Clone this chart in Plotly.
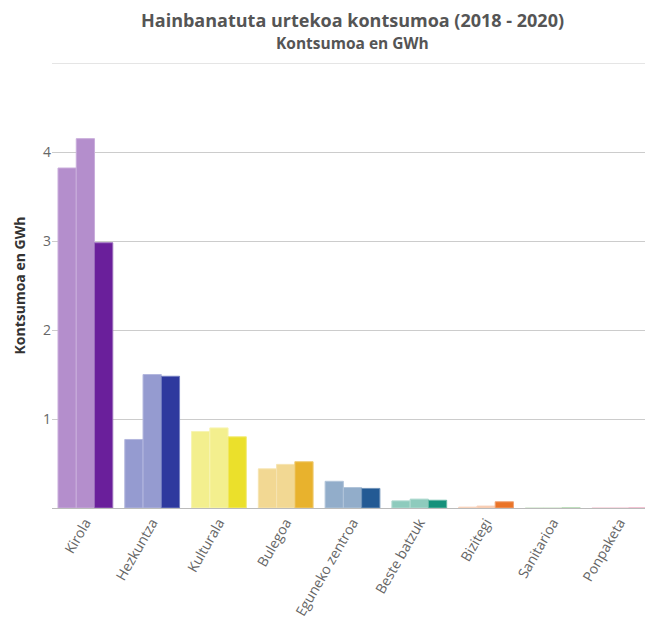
import plotly.graph_objects as go

categories = ["Kirola", "Hezkuntza", "Kulturala", "Bulegoa", "Eguneko zentroa",
              "Beste batzuk", "Bizitegi", "Sanitarioa", "Ponpaketa"]
years = ["2018", "2019", "2020"]
v2018 = [3.82, 0.77, 0.86, 0.44, 0.30, 0.08, 0.010, 0.002, 0.004]
v2019 = [4.15, 1.50, 0.90, 0.49, 0.23, 0.10, 0.022, 0.002, 0.006]
v2020 = [2.98, 1.48, 0.80, 0.52, 0.22, 0.087, 0.07, 0.002, 0.001]

light_colors = ["#b48ecc", "#959bd0", "#f3ef8e", "#f2d893", "#92adca",
                "#8ecbbd", "#f6c3a4", "#c6e3c0", "#f4c7d4"]
dark_colors = ["#6a1f9b", "#2e399e", "#ebe02b", "#e8b22d", "#235a94",
               "#15917b", "#ea7428", "#8cc98a", "#e990ad"]
outline_light = ["#c9addb", "#b3b7de", "#f7f4b3", "#f6e4b1", "#b1c4d9",
                 "#b0dad0", "#f9d6c1", "#dcecd8", "#f8dbe3"]
outline_dark = ["#9a6cbb", "#7680c2", "#f2eb7a", "#efcb75", "#6f93b8",
                "#67b8a6", "#f1a272", "#b6dcb4", "#f0b7ca"]

fig = go.Figure()
series = [v2018, v2019, v2020]
for i, (yr, vals) in enumerate(zip(years, series)):
    cols = dark_colors if i == 2 else light_colors
    lines = outline_dark if i == 2 else outline_light
    fig.add_trace(go.Bar(
        name=yr, x=categories, y=vals,
        marker=dict(color=cols, line=dict(color=lines, width=1)),
    ))

fig.update_layout(
    width=645, height=613,
    barmode="group", bargap=0.18, bargroupgap=0.0,
    showlegend=False,
    plot_bgcolor="white", paper_bgcolor="white",
    margin=dict(l=44, r=0, t=55, b=113, autoexpand=False),
    font=dict(family="Open Sans, Noto Sans, sans-serif", color="#666666"),
    annotations=[
        dict(text="<b>Hainbanatuta urtekoa kontsumoa (2018 - 2020)</b>",
             xref="paper", yref="paper", x=0.5, y=1, yshift=43,
             xanchor="center", yanchor="middle", showarrow=False,
             borderpad=0,
             font=dict(size=18, color="#555555")),
        dict(text="<b>Kontsumoa en GWh</b>",
             xref="paper", yref="paper", x=0.5, y=1, yshift=20,
             xanchor="center", yanchor="middle", showarrow=False,
             borderpad=0,
             font=dict(size=15.5, color="#555555")),
    ],
    shapes=[dict(type="line", xref="paper", yref="y", x0=0, x1=1, y0=5, y1=5,
                 line=dict(color="#cccccc", width=1))],
)
fig.update_yaxes(
    range=[0, 5], tickvals=[0, 1, 2, 3, 4, 5],
    ticktext=["", "1", "2", "3", "4", ""],
    showgrid=True, gridcolor="#cccccc", gridwidth=1,
    zeroline=False, showline=False, automargin=False,
    tickfont=dict(size=14, color="#666666"),
    ticks="", ticklen=0,
    title=dict(text="<b>Kontsumoa en GWh</b>", font=dict(size=14, color="#333333"), standoff=14),
)
fig.update_xaxes(
    tickangle=-60, tickfont=dict(size=14, color="#666666"),
    showline=True, linecolor="#bbbbbb", linewidth=1,
    showgrid=False, automargin=False,
)

fig.write_html("out.html")
